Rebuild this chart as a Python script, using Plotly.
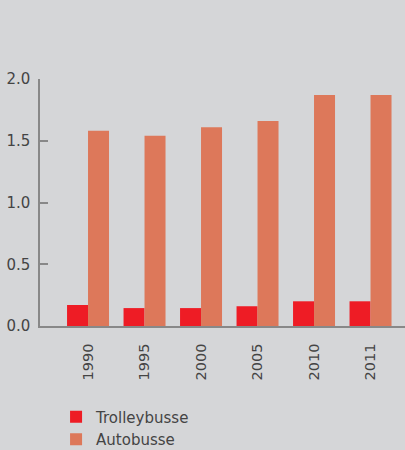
import plotly.graph_objects as go

years = ['1990', '1995', '2000', '2005', '2010', '2011']
trolleybusse = [0.17, 0.145, 0.145, 0.16, 0.20, 0.20]
autobusse = [1.58, 1.54, 1.61, 1.66, 1.87, 1.87]

fig = go.Figure()
fig.add_trace(go.Bar(x=years, y=trolleybusse, name='Trolleybusse',
                     marker=dict(color='#ee1c25', line=dict(width=0))))
fig.add_trace(go.Bar(x=years, y=autobusse, name='Autobusse',
                     marker=dict(color='#dd785a', line=dict(width=0))))

fig.update_layout(
    width=405, height=450,
    margin=dict(l=40, r=0, t=79, b=124, autoexpand=False),
    paper_bgcolor='#d5d6d8',
    plot_bgcolor='#d5d6d8',
    barmode='group',
    bargap=0.257,
    bargroupgap=0,
    font=dict(family='DejaVu Sans, sans-serif', size=15, color='#444444'),
    showlegend=True,
    legend=dict(
        x=0.044, y=-0.302, xanchor='left', yanchor='top',
        orientation='v',
        bgcolor='rgba(0,0,0,0)',
        font=dict(size=15, color='#444444'),
        tracegroupgap=0,
    ),
    xaxis=dict(
        type='category',
        range=[-0.85, 5.61],
        showline=True, linecolor='#888888', linewidth=1.5,
        ticks='', tickangle=-90,
        tickfont=dict(size=14.5),
        ticklabelstandoff=10,
        showgrid=False, zeroline=False,
    ),
    yaxis=dict(
        range=[0, 2],
        tickvals=[0, 0.5, 1.0, 1.5, 2.0],
        ticktext=['0.0', '0.5', '1.0', '1.5', '2.0'],
        showline=True, linecolor='#888888', linewidth=1.5,
        ticks='inside', ticklen=8, tickcolor='#888888', tickwidth=1.5,
        ticklabelstandoff=5,
        showgrid=False, zeroline=False,
    ),
)

fig.write_html('out.html', config={'displayModeBar': False},
               post_script="document.body.style.margin='0';")
